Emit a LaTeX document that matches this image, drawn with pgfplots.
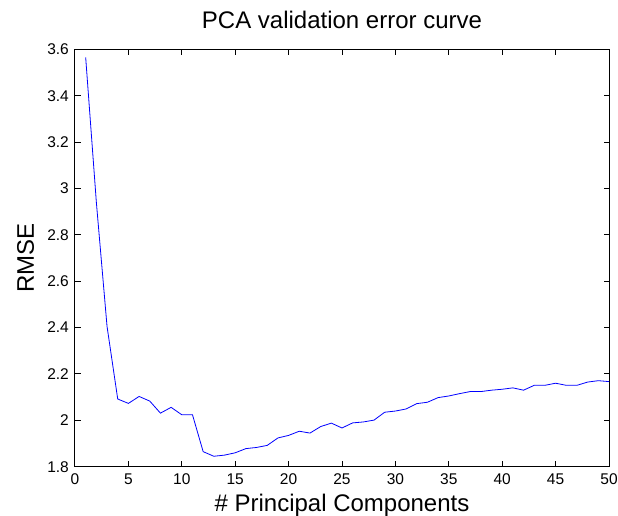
\documentclass[border=0pt]{standalone}
\usepackage{pgfplots}
\pgfplotsset{compat=1.18}
\usepackage{fontspec}
\setmainfont{Liberation Sans}
\begin{document}
\begin{tikzpicture}
\begin{axis}[
  at={(0pt,0pt)}, anchor=south west,
  scale only axis, width=534pt, height=417.4pt,
  xmin=0, xmax=50, ymin=1.8, ymax=3.6,
  xtick={0,5,...,50},
  ytick={1.8,2,2.2,2.4,2.6,2.8,3,3.2,3.4,3.6},
  tick align=inside, major tick length=5.5pt,
  /pgf/number format/assume math mode=true,
  ticklabel style={font=\fontsize{15.5}{17}\selectfont},
  xticklabel style={inner sep=0pt, anchor=north, yshift=-7pt},
  yticklabel style={inner sep=0pt, anchor=east, xshift=-6pt},
  title={PCA validation error curve},
  title style={font=\fontsize{24}{28}\selectfont, at={(axis description cs:0.5,1)}, anchor=base, yshift=14.5pt},
  xlabel={\# Principal Components},
  ylabel={RMSE},
  xlabel style={font=\fontsize{24}{28}\selectfont, at={(axis description cs:0.5,0)}, anchor=base, yshift=-44.3pt},
  ylabel style={font=\fontsize{24}{28}\selectfont, at={(axis description cs:0,0.5)}, anchor=base, yshift=41pt},
  axis line style={black, line width=1pt},
  every tick/.style={black, line width=1pt},
]
\addplot[blue, line width=0.8pt] coordinates {
(1,3.565) (2,2.94) (3,2.405) (4,2.092) (5,2.073) (6,2.103) (7,2.083) (8,2.031)
(9,2.056) (10,2.024) (11,2.024) (12,1.865) (13,1.845) (14,1.850) (15,1.860)
(16,1.878) (17,1.883) (18,1.892) (19,1.924) (20,1.935) (21,1.953) (22,1.945)
(23,1.973) (24,1.988) (25,1.967) (26,1.989) (27,1.993) (28,2.001) (29,2.035)
(30,2.040) (31,2.049) (32,2.072) (33,2.078) (34,2.098) (35,2.105) (36,2.115)
(37,2.124) (38,2.124) (39,2.130) (40,2.134) (41,2.140) (42,2.130) (43,2.151)
(44,2.151) (45,2.160) (46,2.151) (47,2.151) (48,2.165) (49,2.171) (50,2.167)
};
\end{axis}
\pgfresetboundingbox
\path[use as bounding box] (-75pt,-48.3pt) rectangle (543pt,466.7pt);
\end{tikzpicture}
\end{document}
